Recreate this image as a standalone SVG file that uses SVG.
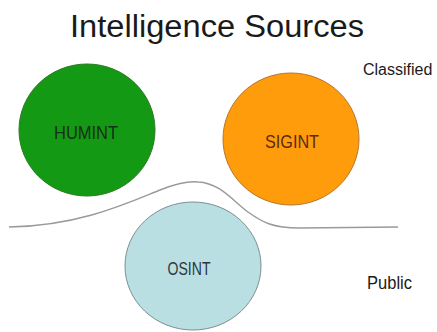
<svg xmlns="http://www.w3.org/2000/svg" width="437" height="332" viewBox="0 0 437 332">
  <style>
    text { font-family: "Liberation Sans", Arial, sans-serif; }
    .title { font-size: 31px; fill: #1a1a1a; }
    .label { font-size: 19px; }
    .zone { font-size: 18px; fill: #1a1a1a; }
    .divider { fill: none; stroke: #9a9a9a; stroke-width: 1.4; }
  </style>
  <rect width="437" height="332" fill="#ffffff"/>

  <text class="title" x="217" y="37" text-anchor="middle" textLength="294" lengthAdjust="spacingAndGlyphs">Intelligence Sources</text>

  <!-- boundary between classified and public sources -->
  <g id="divider">
    <path class="divider" d="M9,227 C80,226 130,202 160,190 C178,183 188,181 198,182 C220,183 232,200 248,212 C262,222 272,228 300,228 L398,227"/>
  </g>

  <g id="humint">
    <ellipse cx="87" cy="130" rx="68" ry="66" fill="#149914" stroke="#2c7a22" stroke-width="1"/>
    <text class="label" x="86" y="139" text-anchor="middle" textLength="64" lengthAdjust="spacingAndGlyphs" fill="#16301a">HUMINT</text>
  </g>

  <g id="sigint">
    <ellipse cx="291" cy="139" rx="68" ry="66" fill="#ff9c0c" stroke="#b8762a" stroke-width="1"/>
    <text class="label" x="292" y="148" text-anchor="middle" textLength="54" lengthAdjust="spacingAndGlyphs" fill="#5a2a12">SIGINT</text>
  </g>

  <g id="osint">
    <ellipse cx="193" cy="266" rx="68" ry="64" fill="#badfe3" stroke="#7c8f92" stroke-width="1"/>
    <text class="label" x="189" y="275" text-anchor="middle" textLength="43" lengthAdjust="spacingAndGlyphs" fill="#2e3538">OSINT</text>
  </g>

  <text x="363" y="75" font-size="16" fill="#1a1a1a">Classified</text>
  <text class="zone" x="367" y="289" textLength="45" lengthAdjust="spacingAndGlyphs">Public</text>
</svg>
